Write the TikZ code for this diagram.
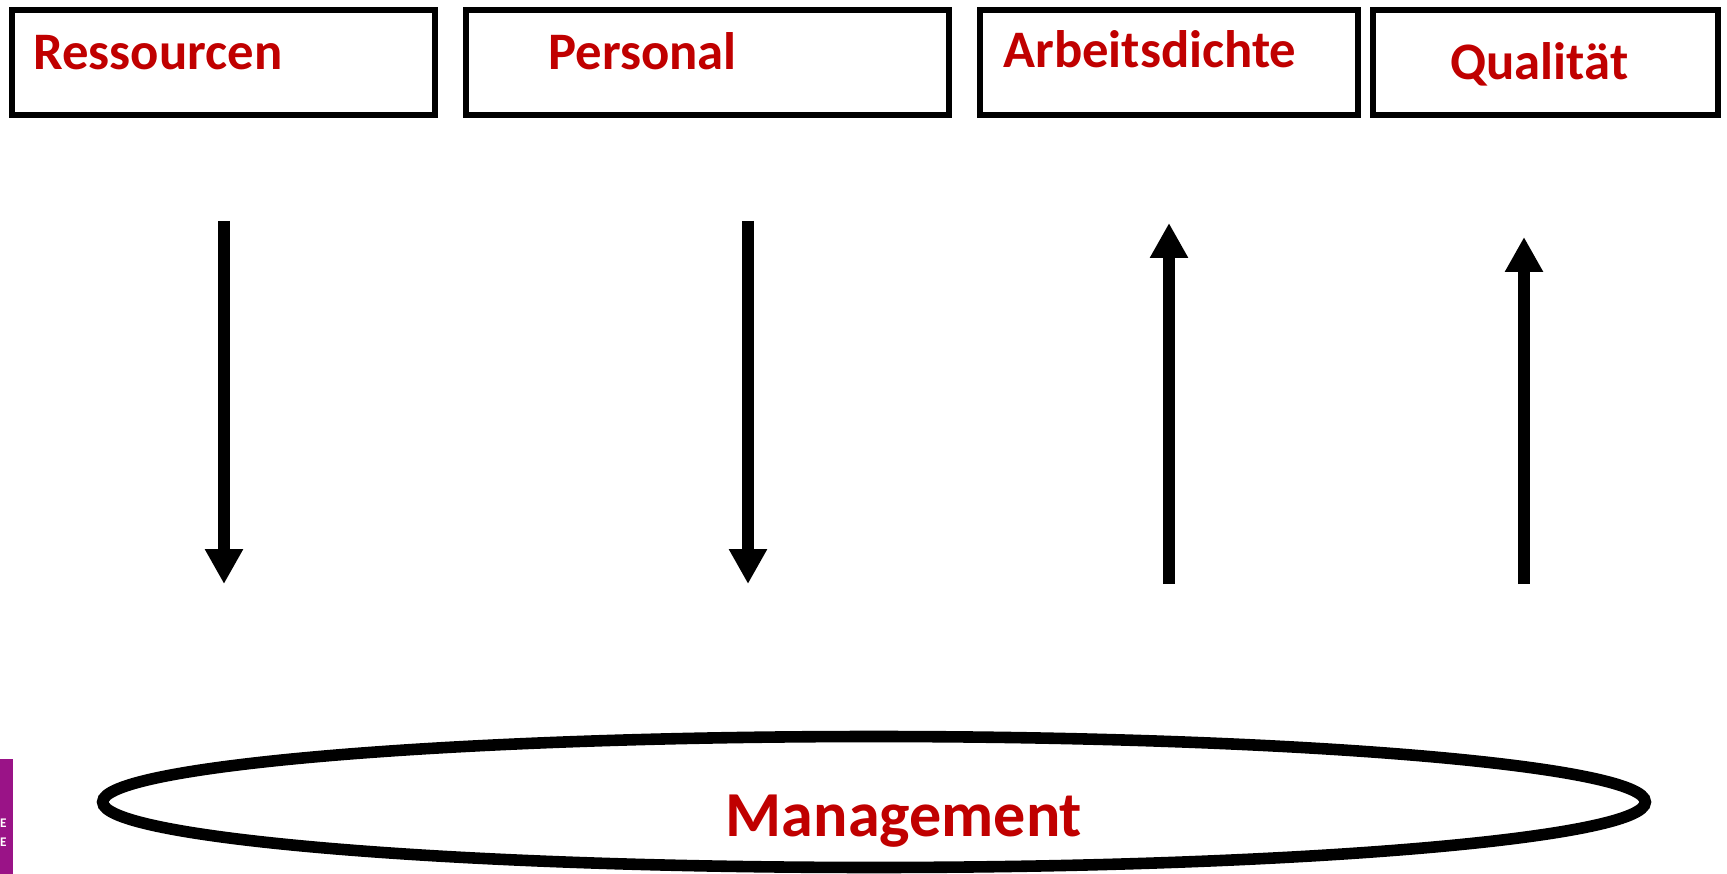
\documentclass[tikz,border=0pt]{standalone}
\usepackage{fontspec}
\setmainfont{Carlito}
\usetikzlibrary{arrows.meta,shapes.geometric}
\definecolor{txtred}{HTML}{C00000}
\definecolor{logopurple}{HTML}{9A1387}
\tikzset{
  topbox/.style={draw=black, line width=3.9pt, rectangle, inner sep=0pt, minimum height=2.1cm},
  boxlabel/.style={inner sep=0pt, anchor=base west, text=txtred, font=\bfseries\fontsize{30}{36}\selectfont},
  flowarrow/.style={line width=7.2pt, -{Triangle[width=0.72cm, length=0.7cm]}},
  mgmtring/.style={draw=black, line width=6.6pt, ellipse, inner sep=0pt, minimum width=30.86cm, minimum height=2.62cm},
  mgmtlabel/.style={inner sep=0pt, anchor=base, text=txtred, font=\bfseries\fontsize{36.5}{44}\selectfont},
  logotext/.style={inner sep=0pt, anchor=base east, text=white, font=\bfseries\fontsize{7.5}{9}\selectfont}
}
\begin{document}
\begin{tikzpicture}[x=0.02cm, y=-0.02cm]
\useasboundingbox (0,0) rectangle (1727,874);
% top boxes
\node[topbox, minimum width=8.46cm] (b1) at (223.5,62.5) {};
\node[topbox, minimum width=9.66cm] (b2) at (707.5,62.5) {};
\node[topbox, minimum width=7.56cm] (b3) at (1169,62.5) {};
\node[topbox, minimum width=6.90cm] (b4) at (1545.5,62.5) {};
\node[boxlabel] (t1) at (33,70) {Ressourcen};
\node[boxlabel] (t2) at (548,70) {Personal};
\node[boxlabel] (t3) at (1003,68) {Arbeitsdichte};
\node[boxlabel] (t4) at (1450,80) {Qualität};
% arrows
\coordinate (a1s) at (224,221);
\coordinate (a1e) at (224,584);
\coordinate (a2s) at (748,221);
\coordinate (a2e) at (748,584);
\coordinate (a3s) at (1169,584);
\coordinate (a3e) at (1169,223);
\coordinate (a4s) at (1524,584);
\coordinate (a4e) at (1524,237);
\draw[flowarrow] (a1s) -- (a1e);
\draw[flowarrow] (a2s) -- (a2e);
\draw[flowarrow] (a3s) -- (a3e);
\draw[flowarrow] (a4s) -- (a4e);
% management ellipse
\node[mgmtring] (mg) at (874,802) {};
\node[mgmtlabel] (mgt) at (904,836) {Management};
% cropped logo strip
\fill[logopurple] (0,759) rectangle (13,874);
\node[logotext] (e1) at (7,827) {E};
\node[logotext] (e2) at (7,846) {E};
\end{tikzpicture}
\end{document}
